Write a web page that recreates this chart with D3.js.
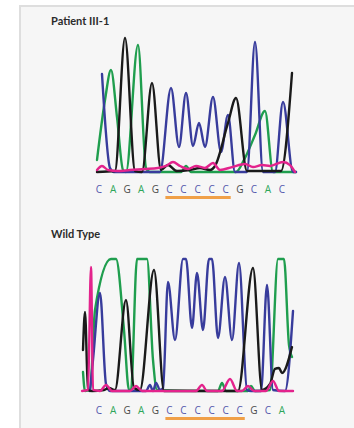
<!DOCTYPE html>
<html>
<head>
<meta charset="utf-8">
<script src="https://cdn.jsdelivr.net/npm/d3@7"></script>
<style>
  html, body { margin: 0; padding: 0; background: #ffffff; }
  svg { display: block; }
</style>
</head>
<body>
<svg id="chart" width="354" height="428"></svg>
<script>
// Base calls under each trace
const patientBases = ["C","A","G","A","G","C","C","C","C","C","G","C","A","C"];
const wildBases    = ["C","A","G","A","G","C","C","C","C","C","C","G","C","A"];
// Underlined run of C's (first and last index into the base calls)
const patientRun = [5, 9];
const wildRun    = [5, 10];

// Fluorescence traces, [scan, signal]; signal 1000 = detector ceiling
const patientA = [[1,90],[9,537],[15,761],[21,410],[27,15],[30,0],[42,948],[50,30],[54,0],[85,0],[90,45],[95,0],[140,0],[148,90],[159,276],[169,455],[177,0],[200,0]];
const patientC = [[6,731],[14,30],[18,0],[64,0],[75,627],[83,187],[90,590],[97,194],[103,366],[109,187],[117,560],[125,149],[132,425],[139,0],[151,0],[159,970],[167,0],[179,0],[187,522],[197,0],[200,0]];
const patientG = [[1,0],[19,7],[29,1000],[39,7],[46,0],[56,664],[65,15],[72,52],[81,7],[94,15],[104,30],[114,15],[119,45],[132,366],[140,552],[151,7],[174,7],[185,7],[196,739]];
const patientT = [[1,15],[6,45],[12,15],[22,7],[34,15],[49,22],[62,30],[70,45],[77,75],[84,45],[92,22],[100,45],[109,30],[117,67],[124,15],[136,37],[149,60],[157,37],[166,52],[174,45],[187,75],[194,52],[199,0]];

const wildA = [[1,144],[3,0],[8,8],[13,614],[29,1000],[34,1000],[42,462],[47,8],[49,8],[55,1000],[65,1000],[71,235],[75,8],[136,0],[140,61],[144,0],[166,0],[169,38],[173,0],[188,8],[196,1000],[202,1000],[207,348],[210,258]];
const wildC = [[8,0],[11,235],[18,742],[24,53],[28,0],[64,0],[68,45],[71,0],[74,61],[78,8],[81,23],[86,826],[93,386],[101,1000],[104,1000],[110,477],[115,894],[121,462],[127,1000],[130,1000],[136,402],[143,864],[150,386],[157,970],[165,8],[169,0],[179,0],[185,803],[191,8],[203,0],[211,606]];
const wildG = [[1,311],[3,598],[6,8],[10,0],[22,8],[27,23],[33,8],[44,689],[52,23],[58,8],[72,917],[82,0],[156,0],[171,932],[180,8],[188,53],[193,167],[197,174],[200,136],[210,333]];
const wildT = [[0,0],[6,8],[9,939],[11,8],[18,0],[24,45],[30,0],[48,0],[54,38],[60,0],[114,0],[120,45],[125,0],[140,0],[148,91],[155,0],[160,0],[166,38],[172,0],[184,0],[191,76],[197,0],[211,0]];

const traceColor = { A: "#1f9e4e", C: "#383c9c", G: "#1a1a1a", T: "#e3238c" };
const letterColor = { A: "#2ea65a", C: "#5357ad", G: "#4a4a4a", T: "#e3238c" };

const svg = d3.select("#chart");

// Panel background with a light frame on the top and left
svg.append("rect").attr("x", 20).attr("y", 6).attr("width", 340).attr("height", 430)
  .attr("fill", "#f6f6f6").attr("stroke", "#dedede").attr("stroke-width", 2);

function drawPanel(cfg) {
  const g = svg.append("g");

  g.append("text")
    .attr("x", cfg.titleX).attr("y", cfg.titleY)
    .attr("font-family", "Lato, 'Open Sans', sans-serif")
    .attr("font-weight", "bold").attr("font-size", 11)
    .attr("fill", "#2b2b2b")
    .text(cfg.title);

  const x = d3.scaleLinear().domain(cfg.scanDomain).range(cfg.xRange);
  const y = d3.scaleLinear().domain([0, 1000]).range(cfg.yRange);
  const line = d3.line().x(d => x(d[0])).y(d => y(d[1])).curve(d3.curveMonotoneX);

  const traces = [["A", cfg.A], ["C", cfg.C], ["G", cfg.G], ["T", cfg.T]];
  g.selectAll("path.trace").data(traces).join("path")
    .attr("class", "trace")
    .attr("d", d => line(d[1]))
    .attr("fill", "none")
    .attr("stroke", d => traceColor[d[0]])
    .attr("stroke-width", 2.4)
    .attr("stroke-linejoin", "round")
    .attr("stroke-linecap", "round");

  const bx = d3.scalePoint().domain(d3.range(cfg.bases.length)).range(cfg.baseRange);
  g.selectAll("text.base").data(cfg.bases).join("text")
    .attr("class", "base")
    .attr("x", (d, i) => bx(i)).attr("y", cfg.baseY)
    .attr("text-anchor", "middle")
    .attr("font-family", "'Open Sans', sans-serif")
    .attr("font-size", 10)
    .attr("fill", d => letterColor[d])
    .text(d => d);

  g.append("line")
    .attr("x1", bx(cfg.run[0]) - 4).attr("x2", bx(cfg.run[1]) + 5)
    .attr("y1", cfg.underlineY).attr("y2", cfg.underlineY)
    .attr("stroke", "#f0a048").attr("stroke-width", 3);
}

drawPanel({
  title: "Patient III-1", titleX: 51, titleY: 25,
  scanDomain: [0, 200], xRange: [96, 296], yRange: [172, 38],
  A: patientA, C: patientC, G: patientG, T: patientT,
  bases: patientBases, baseRange: [99, 282], baseY: 193,
  run: patientRun, underlineY: 197.5
});

drawPanel({
  title: "Wild Type", titleX: 51, titleY: 238,
  scanDomain: [0, 212], xRange: [82, 294], yRange: [391, 259],
  A: wildA, C: wildC, G: wildG, T: wildT,
  bases: wildBases, baseRange: [99, 282], baseY: 414,
  run: wildRun, underlineY: 418.5
});
</script>
</body>
</html>
